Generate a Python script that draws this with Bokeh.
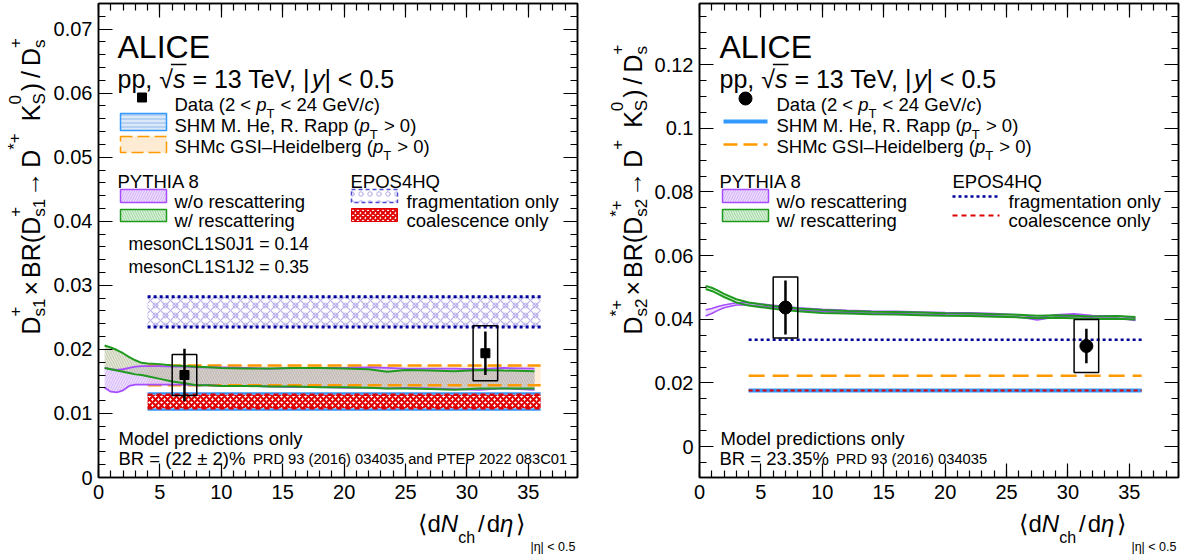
import math
import numpy as np
from bokeh.plotting import figure
from bokeh.models import (LinearAxis, SingleIntervalTicker, NumeralTickFormatter,
                          CustomJSTickFormatter, Label)
from bokeh.layouts import row, column
from bokeh.embed import file_html
from bokeh.resources import INLINE

FONT = "Liberation Sans"

# ---------------------------------------------------------------- data
# x-axis: <dNch/deta>
data_x = [7.0, 31.5]
data_xerr = [1.0, 1.0]

# Ds1+ panel
s1_y = [0.0160, 0.0194]
s1_stat = [0.0041, 0.0034]
s1_syst = [0.0032, 0.0043]

# Ds2*+ panel
s2_y = [0.0437, 0.0316]
s2_stat = [0.0085, 0.0054]
s2_syst = [0.0096, 0.0083]

# models with no multiplicity dependence (x extent, band low/high)
model_x = [4.0, 36.0]
s1_shm = [0.0106, 0.0131]
s1_shmc = [0.0144, 0.0175]
s1_epos_frag = [0.0235, 0.0282]
s1_epos_coal = [0.0108, 0.0129]
s2_shm = 0.0176
s2_shmc = 0.0223
s2_epos_frag = 0.0336
s2_epos_coal = 0.0176

# PYTHIA 8, Ds1 panel
py1_x = [0.5, 1, 1.5, 2, 2.5, 3, 3.5, 4, 5, 6, 7, 8, 9, 10, 12, 14, 16, 18, 20, 22, 23.5, 25, 27, 29, 31, 33, 35.5]
py1_resc_hi = [0.0206, 0.0203, 0.0199, 0.0194, 0.0188, 0.0183, 0.0179, 0.0178, 0.0177, 0.0175, 0.0174, 0.0173, 0.0172,
               0.0171, 0.0170, 0.0170, 0.0171, 0.0171, 0.0170, 0.0169, 0.0165, 0.0168, 0.0167, 0.0166, 0.0168, 0.0167, 0.0166]
py1_resc_lo = [0.0171, 0.0169, 0.0167, 0.0165, 0.0163, 0.0161, 0.0160, 0.0158, 0.0154, 0.0150, 0.0147, 0.0144, 0.0144,
               0.0143, 0.0143, 0.0142, 0.0142, 0.0141, 0.0141, 0.0140, 0.0139, 0.0139, 0.0138, 0.0137, 0.0139, 0.0139, 0.0139]
py1_nores_hi = [0.0171, 0.0169, 0.0168, 0.0169, 0.0171, 0.0173, 0.0174, 0.0174, 0.0174, 0.0173, 0.0173, 0.0172, 0.0172,
                0.0172, 0.0171, 0.0170, 0.0171, 0.0171, 0.0171, 0.0172, 0.0171, 0.0170, 0.0170, 0.0170, 0.0169, 0.0171, 0.0170]
py1_nores_lo = [0.0140, 0.0134, 0.0133, 0.0136, 0.0143, 0.0145, 0.0145, 0.0145, 0.0145, 0.0145, 0.0145, 0.0144, 0.0144,
                0.0143, 0.0143, 0.0142, 0.0141, 0.0141, 0.0140, 0.0140, 0.0139, 0.0140, 0.0139, 0.0138, 0.0137, 0.0139, 0.0137]

# PYTHIA 8, Ds2 panel
py2_x = [0.5, 1, 1.5, 2, 3, 4, 5, 6, 7, 8, 10, 12, 14, 16, 18, 20, 22, 24, 26, 27.5, 29, 30.5, 32, 34, 35.5]
py2_resc_hi = [0.0505, 0.0499, 0.0490, 0.0480, 0.0463, 0.0453, 0.0447, 0.0442, 0.0438, 0.0434, 0.0429, 0.0426, 0.0424,
               0.0423, 0.0421, 0.0419, 0.0418, 0.0416, 0.0414, 0.0411, 0.0413, 0.0411, 0.0409, 0.0410, 0.0407]
py2_resc_lo = [0.0495, 0.0489, 0.0480, 0.0470, 0.0453, 0.0443, 0.0438, 0.0433, 0.0429, 0.0425, 0.0420, 0.0418, 0.0416,
               0.0415, 0.0413, 0.0411, 0.0410, 0.0408, 0.0406, 0.0403, 0.0405, 0.0403, 0.0401, 0.0402, 0.0399]
py2_nores_hi = [0.0430, 0.0434, 0.0440, 0.0445, 0.0452, 0.0452, 0.0448, 0.0444, 0.0440, 0.0436, 0.0431, 0.0428, 0.0426,
                0.0425, 0.0423, 0.0421, 0.0420, 0.0418, 0.0414, 0.0405, 0.0414, 0.0417, 0.0412, 0.0411, 0.0403]
py2_nores_lo = [0.0410, 0.0418, 0.0428, 0.0436, 0.0445, 0.0445, 0.0441, 0.0437, 0.0433, 0.0429, 0.0424, 0.0421, 0.0419,
                0.0418, 0.0416, 0.0414, 0.0413, 0.0411, 0.0407, 0.0398, 0.0407, 0.0410, 0.0405, 0.0404, 0.0396]

# colours
C_PURPLE = "#a64dff"
C_GREEN = "#1f9a1f"
C_ORANGE = "#ff9900"
C_BLUE = "#3399ff"
C_NAVY = "#00009c"
C_RED = "#e00000"

# ---------------------------------------------------------------- text helpers
W = {' ': 278, '!': 278, '(': 333, ')': 333, '*': 389, '+': 584, ',': 278, '-': 333, '.': 278, '/': 278,
     '=': 584, '<': 584, '>': 584, '%': 889, '|': 260, '–': 556, '±': 584, '×': 584, '→': 1000, '√': 549,
     'η': 556, '⟨': 333, '⟩': 333,
     'A': 667, 'B': 667, 'C': 722, 'D': 722, 'E': 667, 'F': 611, 'G': 778, 'H': 722, 'I': 278, 'J': 500,
     'K': 667, 'L': 556, 'M': 833, 'N': 722, 'O': 778, 'P': 667, 'Q': 778, 'R': 722, 'S': 667, 'T': 611,
     'U': 722, 'V': 667, 'W': 944, 'X': 667, 'Y': 667, 'Z': 611,
     'a': 556, 'b': 556, 'c': 500, 'd': 556, 'e': 556, 'f': 278, 'g': 556, 'h': 556, 'i': 222, 'j': 222,
     'k': 500, 'l': 222, 'm': 833, 'n': 556, 'o': 556, 'p': 556, 'q': 556, 'r': 333, 's': 500, 't': 278,
     'u': 556, 'v': 500, 'w': 722, 'x': 500, 'y': 500, 'z': 500}


def tw(s, size):
    return sum(W.get(c, 556) for c in s) * size / 1000.0


def measure(parts):
    pos = 0.0
    for part in parts:
        if part[0] == "g":
            pos += part[1]
        elif part[0] == "t":
            pos += tw(part[1], part[2])
        else:
            pos += max(tw(part[1], part[3]), tw(part[2], part[3]))
    return pos


class Canvas:
    """Places texts given in page pixel coordinates."""

    def dx(self, px):
        return px

    def dy(self, py):
        return py

    def text(self, px, py, s, size, style="normal", angle=0.0):
        lead = len(s) - len(s.lstrip(" "))
        s2 = s.strip(" ")
        if not s2:
            return
        off = tw(" " * lead, size)
        if angle:
            py -= off
        else:
            px += off
        self.p.add_layout(Label(x=self.dx(px), y=self.dy(py), text=s2, angle=angle,
                                text_font=FONT, text_font_size=f"{size}px", text_font_style=style,
                                text_align="left", text_baseline="alphabetic", text_color="black"))

    def run(self, px, py, parts, vertical=False):
        pos = 0.0
        ang = math.pi / 2 if vertical else 0.0

        def put(s, size, style, d, at):
            if vertical:
                self.text(px + d, py - at, s, size, style, ang)
            else:
                self.text(px + at, py + d, s, size, style, ang)

        for part in parts:
            if part[0] == "g":
                pos += part[1]
            elif part[0] == "t":
                _, s, size, style, d = part
                put(s, size, style, d, pos)
                pos += tw(s, size)
            else:
                _, sup, sub, size, dsup, dsub = part
                put(sup, size, "normal", dsup, pos)
                put(sub, size, "normal", dsub, pos)
                pos += max(tw(sup, size), tw(sub, size))
        return pos


class Panel(Canvas):
    def __init__(self, p, fx0, fy0, fw, fh, xr, yr):
        self.p, self.fx0, self.fy0, self.fw, self.fh, self.xr, self.yr = p, fx0, fy0, fw, fh, xr, yr

    def dx(self, px):
        return self.xr[0] + (px - self.fx0) / self.fw * (self.xr[1] - self.xr[0])

    def dy(self, py):
        return self.yr[1] - (py - self.fy0) / self.fh * (self.yr[1] - self.yr[0])

    def box(self, x0, x1, y0, y1, **kw):
        self.p.quad(left=[self.dx(x0)], right=[self.dx(x1)], top=[self.dy(y0)], bottom=[self.dy(y1)], **kw)

    def hline(self, x0, x1, y, **kw):
        self.p.line([self.dx(x0), self.dx(x1)], [self.dy(y), self.dy(y)], **kw)


class TextFig(Canvas):
    def __init__(self, x0, y0, w, h):
        self.p = figure(frame_width=w, frame_height=h, x_range=(x0, x0 + w), y_range=(y0 + h, y0),
                        min_border=0, x_axis_type=None, y_axis_type=None, outline_line_color=None,
                        output_backend="svg", toolbar_location=None, background_fill_color="white",
                        border_fill_color="white")
        self.p.xgrid.visible = False
        self.p.ygrid.visible = False


# page geometry (picture pixels)
OX, OY = 2, 2            # page origin of the layout
FT, FH, FW = 5, 474, 479  # frame top, frame height, frame width
BB = 30                   # bottom border of main figures
L_FX, R_FX = 98, 697      # frame left edges
BL = 46                   # left border (tick labels) of main figures
BR1, BR2 = 28, 5          # right borders
MAIN_BOTTOM = FT + FH + BB
PAGE_BOTTOM = 557
YT1_W = L_FX - BL - OX
LEFT_W = YT1_W + BL + FW + BR1
YT2_W = R_FX - BL - (OX + LEFT_W)
RIGHT_W = YT2_W + BL + FW + BR2


def make_fig(yr, yint, ynminor, bl, br):
    p = figure(frame_width=FW, frame_height=FH, x_range=(0, 39), y_range=yr,
               min_border_left=bl, min_border_right=br, min_border_top=FT - OY, min_border_bottom=BB,
               output_backend="svg", toolbar_location=None, background_fill_color="white",
               border_fill_color="white", outline_line_color="black", outline_line_width=1.5)
    p.xgrid.grid_line_color = None
    p.ygrid.grid_line_color = None
    p.xaxis.ticker = SingleIntervalTicker(interval=5, num_minor_ticks=5)
    p.yaxis.ticker = SingleIntervalTicker(interval=yint, num_minor_ticks=ynminor)
    p.yaxis.formatter = NumeralTickFormatter(format="0.[00]")
    blank = CustomJSTickFormatter(code="return ''")
    top = LinearAxis(ticker=SingleIntervalTicker(interval=5, num_minor_ticks=5), formatter=blank)
    right = LinearAxis(ticker=SingleIntervalTicker(interval=yint, num_minor_ticks=ynminor), formatter=blank)
    p.add_layout(top, "above")
    p.add_layout(right, "right")
    for ax in p.axis:
        ax.major_tick_in = 14
        ax.major_tick_out = 0
        ax.minor_tick_in = 7
        ax.minor_tick_out = 0
        ax.major_tick_line_width = 1.2
        ax.minor_tick_line_width = 1.2
        ax.axis_line_width = 1.5
        ax.major_tick_line_color = "black"
        ax.minor_tick_line_color = "black"
        ax.axis_line_color = "black"
        ax.major_label_text_font = FONT
        ax.major_label_text_color = "black"
    for ax in (top, right):
        ax.major_label_text_font_size = "1px"
        ax.major_label_standoff = 0
    bottom_ax = p.below[0]
    left_ax = p.left[0]
    bottom_ax.major_label_text_font_size = "20px"
    bottom_ax.major_label_standoff = 7
    left_ax.major_label_text_font_size = "20px"
    left_ax.major_label_standoff = 6
    return p


x = np.array(data_x)
xe = np.array(data_xerr)
mx0, mx1 = model_x

# ================================================================ LEFT: Ds1
Y1R = (0, 0.074)
p1 = make_fig(Y1R, 0.01, 5, BL, BR1)
L = Panel(p1, L_FX, FT, FW, FH, (0, 39), Y1R)

# SHM He-Rapp band (under EPOS coalescence)
p1.quad(left=[mx0], right=[mx1], bottom=[s1_shm[0]], top=[s1_shm[1]], fill_color="#dbe8f8",
        line_color=None, hatch_pattern="horizontal_line", hatch_color="#8fb8e8", hatch_scale=4)
p1.segment(x0=[mx0, mx0], x1=[mx1, mx1], y0=s1_shm, y1=s1_shm, line_color=C_BLUE, line_width=2.5)
# EPOS coalescence
p1.quad(left=[mx0], right=[mx1], bottom=[s1_epos_coal[0]], top=[s1_epos_coal[1]], fill_color="white",
        line_color=None, hatch_pattern="diagonal_cross", hatch_color=C_RED, hatch_weight=2.2, hatch_scale=6)
p1.segment(x0=[mx0, mx0], x1=[mx1, mx1], y0=s1_epos_coal, y1=s1_epos_coal, line_color=C_RED,
           line_width=2.5, line_dash="5 4")
# EPOS fragmentation
p1.quad(left=[mx0], right=[mx1], bottom=[s1_epos_frag[0]], top=[s1_epos_frag[1]], fill_color="white",
        line_color=None, hatch_pattern="diagonal_cross", hatch_color="#b8b0ea", hatch_weight=1.2, hatch_scale=10)
p1.quad(left=[mx0], right=[mx1], bottom=[s1_epos_frag[0]], top=[s1_epos_frag[1]], fill_color=None,
        line_color=None, hatch_pattern="ring", hatch_color="#b8b0ea", hatch_weight=1.0, hatch_scale=10)
p1.segment(x0=[mx0, mx0], x1=[mx1, mx1], y0=s1_epos_frag, y1=s1_epos_frag, line_color=C_NAVY,
           line_width=3, line_dash="3 3")
# SHMc band
p1.quad(left=[mx0], right=[mx1], bottom=[s1_shmc[0]], top=[s1_shmc[1]], fill_color="#ffe4c2",
        fill_alpha=0.6, line_color=None)
# PYTHIA bands
p1.varea(x=py1_x, y1=py1_nores_lo, y2=py1_nores_hi, fill_color="#d6b8ff", fill_alpha=0.45,
         hatch_pattern="right_diagonal_line", hatch_color="#c79cf2", hatch_scale=5, hatch_alpha=0.6)
p1.varea(x=py1_x, y1=py1_resc_lo, y2=py1_resc_hi, fill_color="#c8d0b0", fill_alpha=0.45,
         hatch_pattern="left_diagonal_line", hatch_color="#a8b090", hatch_scale=5, hatch_alpha=0.6)
p1.segment(x0=[mx0, mx0], x1=[mx1, mx1], y0=s1_shmc, y1=s1_shmc, line_color=C_ORANGE,
           line_width=2.5, line_dash="14 6")
for arr in (py1_nores_lo, py1_nores_hi):
    p1.line(py1_x, arr, line_color=C_PURPLE, line_width=1.8)
for arr in (py1_resc_lo, py1_resc_hi):
    p1.line(py1_x, arr, line_color=C_GREEN, line_width=2)

# data
y1 = np.array(s1_y)
p1.quad(left=x - xe, right=x + xe, bottom=y1 - np.array(s1_syst), top=y1 + np.array(s1_syst),
        fill_color=None, line_color="black", line_width=1.5)
p1.segment(x0=x, x1=x, y0=y1 - np.array(s1_stat), y1=y1 + np.array(s1_stat), line_color="black", line_width=2.5)
p1.scatter(x, y1, marker="square", size=9, color="black")

# ================================================================ RIGHT: Ds2
Y2R = (-0.0097, 0.1392)
p2 = make_fig(Y2R, 0.02, 4, BL, BR2)
R = Panel(p2, R_FX, FT, FW, FH, (0, 39), Y2R)

p2.line(model_x, [s2_shm, s2_shm], line_color=C_BLUE, line_width=4)
p2.line(model_x, [s2_epos_coal, s2_epos_coal], line_color=C_RED, line_width=2, line_dash="4 3")
p2.line(model_x, [s2_shmc, s2_shmc], line_color=C_ORANGE, line_width=2.5, line_dash="16 8")
p2.line(model_x, [s2_epos_frag, s2_epos_frag], line_color=C_NAVY, line_width=2.5, line_dash="3 3")
p2.varea(x=py2_x, y1=py2_nores_lo, y2=py2_nores_hi, fill_color="#dcc0ff", fill_alpha=0.5)
p2.varea(x=py2_x, y1=py2_resc_lo, y2=py2_resc_hi, fill_color="#c4e8c4", fill_alpha=0.5)
for arr in (py2_nores_lo, py2_nores_hi):
    p2.line(py2_x, arr, line_color=C_PURPLE, line_width=1.6)
for arr in (py2_resc_lo, py2_resc_hi):
    p2.line(py2_x, arr, line_color=C_GREEN, line_width=2)

y2 = np.array(s2_y)
p2.quad(left=x - xe, right=x + xe, bottom=y2 - np.array(s2_syst), top=y2 + np.array(s2_syst),
        fill_color=None, line_color="black", line_width=1.5)
p2.segment(x0=x, x1=x, y0=y2 - np.array(s2_stat), y1=y2 + np.array(s2_stat), line_color="black", line_width=2.5)
p2.scatter(x, y2, marker="circle", size=13, color="black")

# ================================================================ texts inside the frames
LS = 18.5  # legend font


def pt_parts(pre, post):
    return [("t", pre, LS, "normal", 0), ("t", "p", LS, "italic", 0), ("t", "T", 13, "normal", 9), ("g", 1),
            ("t", post, LS, "normal", 0)]


for P, ox in ((L, 0), (R, 600)):
    P.text(117 + ox, 48, "ALICE", 32)
    base = 117 + ox
    pp = [("t", "pp, ", 25, "normal", 0), ("t", "√", 25, "normal", 0), ("t", "s", 25, "italic", 0),
          ("t", " = 13 TeV, |", 25, "normal", 0), ("g", -3), ("t", "y", 25, "italic", 0),
          ("t", "| < 0.5", 25, "normal", 0)]
    P.run(base, 80, pp)
    xs0 = base + tw("pp, ", 25) + tw("√", 25) * 0.85
    xs1 = base + tw("pp, √s", 25) + 1
    P.hline(xs0, xs1, 66, line_color="black", line_width=1.3)
    P.run(174 + ox, 106, pt_parts("Data (2 < ", " < 24 GeV/") + [("t", "c", LS, "italic", 0), ("t", ")", LS, "normal", 0)])
    P.run(174 + ox, 127, pt_parts("SHM M. He, R. Rapp (", " > 0)"))
    P.run(174 + ox, 148, pt_parts("SHMc GSI–Heidelberg (", " > 0)"))
    P.text(117 + ox, 183, "PYTHIA 8", LS)
    P.text(174 + ox, 203, "w/o rescattering", LS)
    P.text(174 + ox, 222, "w/ rescattering", LS)
    P.text(350 + ox, 183, "EPOS4HQ", LS)
    P.text(406 + ox, 203, "fragmentation only", LS)
    P.text(406 + ox, 222, "coalescence only", LS)
    P.text(118 + ox, 440, "Model predictions only", LS)
    # PYTHIA legend swatches
    P.box(120 + ox, 166 + ox, 191, 204, fill_color="#eedcff", line_color=C_PURPLE, line_width=1.5,
          hatch_pattern="right_diagonal_line", hatch_color="#d2b0f5", hatch_scale=5)
    P.box(120 + ox, 166 + ox, 211, 223, fill_color="#dcf2dc", line_color=C_GREEN, line_width=1.5,
          hatch_pattern="left_diagonal_line", hatch_color="#9bd69b", hatch_scale=5)

# left-only legend pieces
L.text(128, 245, "mesonCL1S0J1 = 0.14", 17.7)
L.text(128, 268, "mesonCL1S1J2 = 0.35", 17.7)
L.p.scatter([L.dx(141.5)], [L.dy(99)], marker="square", size=9, color="black")
L.box(120, 166, 115, 132, fill_color="#dbe8f8", line_color=C_BLUE, line_width=1.5,
      hatch_pattern="horizontal_line", hatch_color="#8fb8e8", hatch_scale=4)
L.box(120, 166, 138, 154, fill_color="#fdebd3", line_color=C_ORANGE, line_width=1.5, line_dash="12 5")
L.box(351, 397, 191, 204, fill_color="white", line_color="#4a4ad0", line_width=1.5, line_dash="4 3",
      hatch_pattern="ring", hatch_color="#b0a8e6", hatch_scale=9)
L.box(351, 397, 210, 223, fill_color="white", line_color=C_RED, line_width=1,
      hatch_pattern="diagonal_cross", hatch_color=C_RED, hatch_weight=2, hatch_scale=5)
L.run(118, 460, [("t", "BR = (22 ± 2)%", LS, "normal", 0), ("g", 7),
                 ("t", "PRD 93 (2016) 034035 and PTEP 2022 083C01", 14.7, "normal", 0)])

# right-only legend pieces
R.p.scatter([R.dx(743)], [R.dy(100)], marker="circle", size=13, color="black")
R.hline(721, 765, 123, line_color=C_BLUE, line_width=4)
R.hline(721, 765, 146, line_color=C_ORANGE, line_width=2.5, line_dash="14 6")
R.hline(950, 997, 198, line_color=C_NAVY, line_width=2.5, line_dash="3 3")
R.hline(950, 997, 217, line_color=C_RED, line_width=2, line_dash="5 4")
R.run(717, 460, [("t", "BR = 23.35%", LS, "normal", 0), ("g", 7),
                 ("t", "PRD 93 (2016) 034035", 14.7, "normal", 0)])

# ================================================================ axis titles (own strips)
YT1 = TextFig(OX, OY, YT1_W, MAIN_BOTTOM - OY)
YT2 = TextFig(OX + LEFT_W, OY, YT2_W, MAIN_BOTTOM - OY)
XT1 = TextFig(OX, MAIN_BOTTOM, LEFT_W, PAGE_BOTTOM - MAIN_BOTTOM)
XT2 = TextFig(OX + LEFT_W, MAIN_BOTTOM, RIGHT_W, PAGE_BOTTOM - MAIN_BOTTOM)

M, S = 25, 17
SU, SB = -16, 9
ylab1 = [("t", "D", M, "normal", 0), ("st", "+", "s1", S, SU, SB), ("g", 3), ("t", "×", M, "normal", 0), ("g", 3),
         ("t", "BR(D", M, "normal", 0), ("st", "+", "s1", S, SU, SB), ("g", 2), ("t", "→", M, "normal", 0), ("g", 4),
         ("t", "D", M, "normal", 0), ("st", "*+", "", S, SU, SB), ("g", 12), ("t", "K", M, "normal", 0),
         ("st", "0", "S", S, SU, SB), ("g", 2), ("t", ")", M, "normal", 0), ("g", 5), ("t", "/", M, "normal", 0),
         ("g", 5), ("t", "D", M, "normal", 0), ("st", "+", "s", S, SU, SB)]
YT1.run(32, 333, ylab1, vertical=True)
ylab2 = [("t", "D", M, "normal", 0), ("st", "*+", "s2", S, SU, SB), ("g", 3), ("t", "×", M, "normal", 0), ("g", 3),
         ("t", "BR(D", M, "normal", 0), ("st", "*+", "s2", S, SU, SB), ("g", 2), ("t", "→", M, "normal", 0), ("g", 4),
         ("t", "D", M, "normal", 0), ("st", "+", "", S, SU, SB), ("g", 12), ("t", "K", M, "normal", 0),
         ("st", "0", "S", S, SU, SB), ("g", 2), ("t", ")", M, "normal", 0), ("g", 5), ("t", "/", M, "normal", 0),
         ("g", 5), ("t", "D", M, "normal", 0), ("st", "+", "s", S, SU, SB)]
YT2.run(632, 333, ylab2, vertical=True)

XM = 24
xlab = [("t", "⟨", XM, "normal", 0), ("g", 2), ("t", "d", XM, "normal", 0), ("t", "N", XM, "italic", 0),
        ("t", "ch", 16, "normal", 14), ("g", 3), ("t", "/", XM, "normal", 0), ("g", 2), ("t", "d", XM, "normal", 0),
        ("t", "η", XM, "italic", 0), ("g", 3), ("t", "⟩", XM, "normal", 0), ("g", 6),
        ("t", "|η| < 0.5", 12.5, "normal", 23)]
wx = measure(xlab)
XT1.run(L_FX + FW - wx, 525, xlab)
XT2.run(R_FX + FW - wx, 525, xlab)

left_col = column(row(YT1.p, p1), XT1.p)
right_col = column(row(YT2.p, p2), XT2.p)
layout = row(left_col, right_col)
open("out.html", "w").write(file_html(layout, INLINE))
